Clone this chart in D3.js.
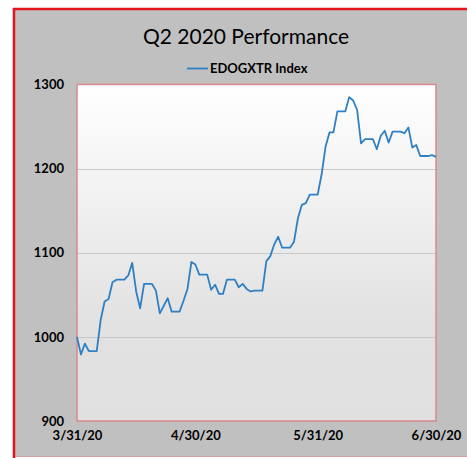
<!DOCTYPE html>
<html>
<head>
<meta charset="utf-8">
<script src="https://cdn.jsdelivr.net/npm/d3@7"></script>
<style>
  body { margin: 0; background: #fff; }
  text { font-family: Lato, "DejaVu Sans", sans-serif; fill: #000; }
</style>
</head>
<body>
<svg id="chart" width="467" height="458"></svg>
<script>
// EDOGXTR Index, daily (weekends carried forward) 3/31/20 - 6/30/20
var startDate = '2020-03-31';
var indexValues = [
  1000, 979, 992, 983, 983, 983, 1020, 1042, 1045, 1065,
  1068, 1068, 1068, 1073, 1088, 1054, 1034, 1063, 1063, 1063,
  1055, 1028, 1037, 1046, 1030, 1030, 1030, 1043, 1057, 1089,
  1086, 1074, 1074, 1074, 1056, 1062, 1051, 1051, 1068, 1068,
  1068, 1059, 1063, 1057, 1054, 1055, 1055, 1055, 1090, 1096,
  1110, 1119, 1106, 1106, 1106, 1113, 1141, 1157, 1159, 1169,
  1169, 1169, 1193, 1226, 1243, 1243, 1268, 1268, 1268, 1285,
  1281, 1270, 1230, 1235, 1235, 1235, 1223, 1239, 1245, 1231,
  1244, 1244, 1244, 1242, 1249, 1225, 1228, 1215, 1215, 1215,
  1216, 1214
];
var xTickLabels = ['3/31/20', '4/30/20', '5/31/20', '6/30/20'];
var yTicks = [900, 1000, 1100, 1200, 1300];
var seriesName = 'EDOGXTR Index';
var chartTitle = 'Q2 2020 Performance';

var parseDay = d3.timeParse('%Y-%m-%d');
var parseTick = d3.timeParse('%m/%d/%y');
var fmtTick = d3.timeFormat('%-m/%-d/%y');

var data = indexValues.map(function(v, i){
    return {date: d3.timeDay.offset(parseDay(startDate), i), value: v};
});

var svg = d3.select('#chart');

// outer frame
svg.append('rect').attr('x', 14).attr('y', 9).attr('width', 453).attr('height', 447).attr('fill', '#c0c0c0');
svg.append('line').attr('x1', 14).attr('x2', 467).attr('y1', 456.5).attr('y2', 456.5)
    .attr('stroke', '#d9a0a3').attr('stroke-width', 1);
svg.append('line').attr('x1', 13).attr('x2', 467).attr('y1', 9).attr('y2', 9)
    .attr('stroke', '#e3141b').attr('stroke-width', 2.5);
svg.append('line').attr('x1', 14).attr('x2', 14).attr('y1', 8).attr('y2', 458)
    .attr('stroke', '#e3141b').attr('stroke-width', 2.5);

var plot = {left: 77, top: 84.5, right: 436, bottom: 421};

var grad = svg.append('defs').append('linearGradient')
    .attr('id', 'bg').attr('x1', 0).attr('y1', 0).attr('x2', 0).attr('y2', 1);
grad.append('stop').attr('offset', '0%').attr('stop-color', '#ffffff');
grad.append('stop').attr('offset', '70%').attr('stop-color', '#e2e2e2');
grad.append('stop').attr('offset', '100%').attr('stop-color', '#e0e0e0');

svg.append('rect')
    .attr('x', plot.left).attr('y', plot.top)
    .attr('width', plot.right - plot.left).attr('height', plot.bottom - plot.top)
    .attr('fill', 'url(#bg)');

var x = d3.scaleTime()
    .domain([parseDay(startDate), data[data.length - 1].date])
    .range([plot.left, plot.right]);
var y = d3.scaleLinear().domain([900, 1300]).range([plot.bottom, plot.top]);

// gridlines
svg.append('g')
    .selectAll('line')
    .data(yTicks.slice(1, -1))
    .enter()
    .append('line')
    .attr('x1', plot.left).attr('x2', plot.right)
    .attr('y1', function(d){return Math.round(y(d)) + 0.5;})
    .attr('y2', function(d){return Math.round(y(d)) + 0.5;})
    .attr('stroke', '#c8c8c8').attr('stroke-width', 1.2);

// plot border
svg.append('rect')
    .attr('x', plot.left).attr('y', plot.top)
    .attr('width', plot.right - plot.left).attr('height', plot.bottom - plot.top)
    .attr('fill', 'none').attr('stroke', '#d68b90').attr('stroke-width', 1.5);

// axes
var yAxis = d3.axisLeft(y).tickValues(yTicks).tickSize(0).tickPadding(13).tickFormat(d3.format('d'));
var gy = svg.append('g').attr('transform', 'translate(' + plot.left + ',0)').call(yAxis);
gy.select('.domain').remove();
gy.selectAll('text').style('font-size', '13px').style('font-weight', 'bold')
    .style('font-family', 'Lato, sans-serif').attr('fill', '#000');

var xAxis = d3.axisBottom(x)
    .tickValues(xTickLabels.map(function(s){return parseTick(s);}))
    .tickSize(0).tickPadding(10).tickFormat(fmtTick);
var gx = svg.append('g').attr('transform', 'translate(0,' + plot.bottom + ')').call(xAxis);
gx.select('.domain').remove();
gx.selectAll('text').style('font-size', '13px').style('font-weight', 'bold')
    .style('font-family', 'Lato, sans-serif').attr('fill', '#000');

// line
var line = d3.line()
    .x(function(d){return x(d.date);})
    .y(function(d){return y(d.value);});

svg.append('path')
    .datum(data)
    .attr('d', line)
    .attr('fill', 'none')
    .attr('stroke', '#2f80c3')
    .attr('stroke-width', 1.8)
    .attr('stroke-linejoin', 'round');

// title + legend
svg.append('text')
    .attr('x', 246).attr('y', 44)
    .attr('text-anchor', 'middle')
    .style('font-size', '21px')
    .text(chartTitle);

svg.append('line')
    .attr('x1', 187).attr('x2', 208).attr('y1', 68.5).attr('y2', 68.5)
    .attr('stroke', '#2f80c3').attr('stroke-width', 1.8);
svg.append('text')
    .attr('x', 210).attr('y', 73)
    .style('font-size', '13px').style('font-weight', 'bold')
    .text(seriesName);
</script>
</body>
</html>
